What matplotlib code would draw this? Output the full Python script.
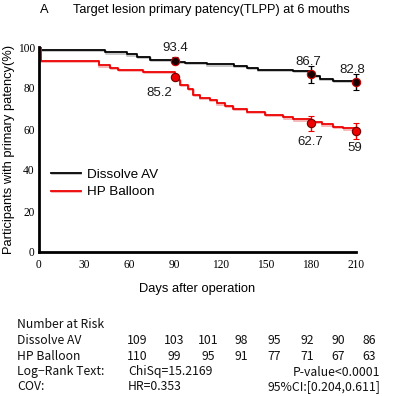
import matplotlib
matplotlib.use('Agg')
import matplotlib.pyplot as plt
import matplotlib.patheffects as pe

# Kaplan-Meier steps (start day of each step, survival %)
dissolve_t = [0, 0.5, 44, 58, 65, 73.5, 90, 97, 111, 129, 138, 145, 168.5, 180, 186, 195, 210]
dissolve_s = [100, 98.5, 97.4, 96.4, 95.1, 93.7, 92.7, 92.3, 91.5, 90.7, 89.9, 88.8, 88.3, 85.9, 84.6, 83.4, 83.4]
hp_t = [0, 1, 39.7, 47, 52.5, 69, 90, 93.4, 99, 102, 106.6, 113, 117.7, 123.2, 128.7, 137.6,
        149.7, 161.8, 168.5, 180, 187.2, 195, 201.6, 210]
hp_s = [100, 93.2, 91.0, 89.9, 88.8, 87.7, 83.9, 81.5, 79.4, 76.6, 75.3, 74.1, 72.5, 71.2, 69.8, 68.4,
        66.8, 65.7, 64.7, 63.3, 62.3, 61.1, 60.3, 60.3]

# marked time points with error bars
mark_days = [90, 180, 210]
dissolve_mark = [93.4, 86.7, 82.8]
dissolve_err = [1.6, 4.2, 3.9]
hp_mark = [85.2, 62.7, 59]
hp_err = [1.0, 3.8, 4.0]

# number at risk table
risk_days = [0, 30, 60, 90, 120, 150, 180, 210]
dissolve_risk = [109, 103, 101, 98, 95, 92, 90, 86]
hp_risk = [110, 99, 95, 91, 77, 71, 67, 63]

W, H = 400, 396
fig = plt.figure(figsize=(W / 100, H / 100), dpi=100)
ax = fig.add_axes([39 / W, 1 - 252 / H, (356 - 39) / W, (252 - 47) / H])

ax.step(dissolve_t, dissolve_s, where='post', color='black', lw=1.3, label='Dissolve AV',
        path_effects=[pe.SimpleLineShadow(offset=(0.4, -0.9), shadow_color='#888888', alpha=0.5), pe.Normal()])
ax.step(hp_t, hp_s, where='post', color='#ee0000', lw=1.3, label='HP Balloon',
        path_effects=[pe.SimpleLineShadow(offset=(0.4, -0.9), shadow_color='#f08080', alpha=0.6), pe.Normal()])

for m, e, fc, ec, bc in [(dissolve_mark, dissolve_err, '#1a0000', '#cc0000', 'black'),
                         (hp_mark, hp_err, '#ee0000', '#700000', '#ee0000')]:
    cont = ax.errorbar(mark_days, m, yerr=e, fmt='o', ms=6, mfc=fc, mec=ec, mew=0.8, ecolor=bc,
                       elinewidth=1.0, capsize=2.2, capthick=1.0, zorder=5)
    for art in [cont.lines[0]] + list(cont.lines[1]) + list(cont.lines[2]):
        art.set_clip_on(False)

# value labels
for d, v, off in zip(mark_days, dissolve_mark, [(0, 9), (-2, 9), (-3, 9)]):
    ax.annotate(f'{v:g}', (d, v), xytext=off, textcoords='offset points', ha='center', va='center',
                fontsize=9.5, family='Liberation Sans', color='#1a1a1a', annotation_clip=False)
for d, v, off in zip(mark_days, hp_mark, [(-11, -11), (0, -13), (-1, -12)]):
    ax.annotate(f'{v:g}', (d, v), xytext=off, textcoords='offset points', ha='center', va='center',
                fontsize=9.5, family='Liberation Sans', color='#1a1a1a', annotation_clip=False)

ax.set_xlim(0, 210)
ax.set_ylim(0, 100)
ax.set_xticks(risk_days)
ax.set_yticks([0, 20, 40, 60, 80, 100])
ax.tick_params(length=0, labelsize=8.3)
ax.tick_params(axis='x', pad=5)
ax.tick_params(axis='y', pad=3)
for lab in ax.get_xticklabels() + ax.get_yticklabels():
    lab.set_family('Liberation Serif')
for s in ['top', 'right']:
    ax.spines[s].set_visible(False)
for s in ['left', 'bottom']:
    ax.spines[s].set_linewidth(2)

ax.set_xlabel('Days after operation', fontsize=9.3, family='Liberation Sans', labelpad=9)
ax.set_ylabel('Participants with primary patency(%)', fontsize=9.3, family='Liberation Sans', labelpad=2)

ax.legend(loc='center left', bbox_to_anchor=(0.0, 0.335), frameon=False,
          prop={'family': 'Liberation Sans', 'size': 9.7}, handlelength=2.2, handletextpad=0.45,
          labelspacing=0.4)

fig.text(40 / W, 1 - 10 / H, 'A', fontsize=9.3, family='Liberation Sans', va='center')
fig.text(73 / W, 1 - 10 / H, 'Target lesion primary patency(TLPP) at 6 mouths', fontsize=9.2,
         family='Liberation Sans', va='center')

# number at risk block
tf = dict(fontsize=8.8, family='Noto Sans CJK SC', va='center', color='#111111')
col_x = [137, 174, 208, 241, 274, 307, 338, 369]
fig.text(17 / W, 1 - 324 / H, 'Number at Risk', **tf)
fig.text(17 / W, 1 - 341 / H, 'Dissolve AV', **tf)
fig.text(17 / W, 1 - 356 / H, 'HP Balloon', **tf)
for x, a, b in zip(col_x, dissolve_risk, hp_risk):
    fig.text(x / W, 1 - 341 / H, str(a), ha='center', **tf)
    fig.text(x / W, 1 - 356 / H, str(b), ha='center', **tf)
fig.text(17 / W, 1 - 372 / H, 'Log\u2212Rank Text:', **tf)
fig.text(128 / W, 1 - 372 / H, 'ChiSq=15.2169', **tf)
fig.text(380 / W, 1 - 372 / H, 'P-value<0.0001', ha='right', **tf)
fig.text(17 / W, 1 - 387 / H, 'COV:', **tf)
fig.text(128 / W, 1 - 387 / H, 'HR=0.353', **tf)
fig.text(380 / W, 1 - 387 / H, '95%CI:[0.204,0.611]', ha='right', **tf)

fig.savefig('out.png', dpi=100)
